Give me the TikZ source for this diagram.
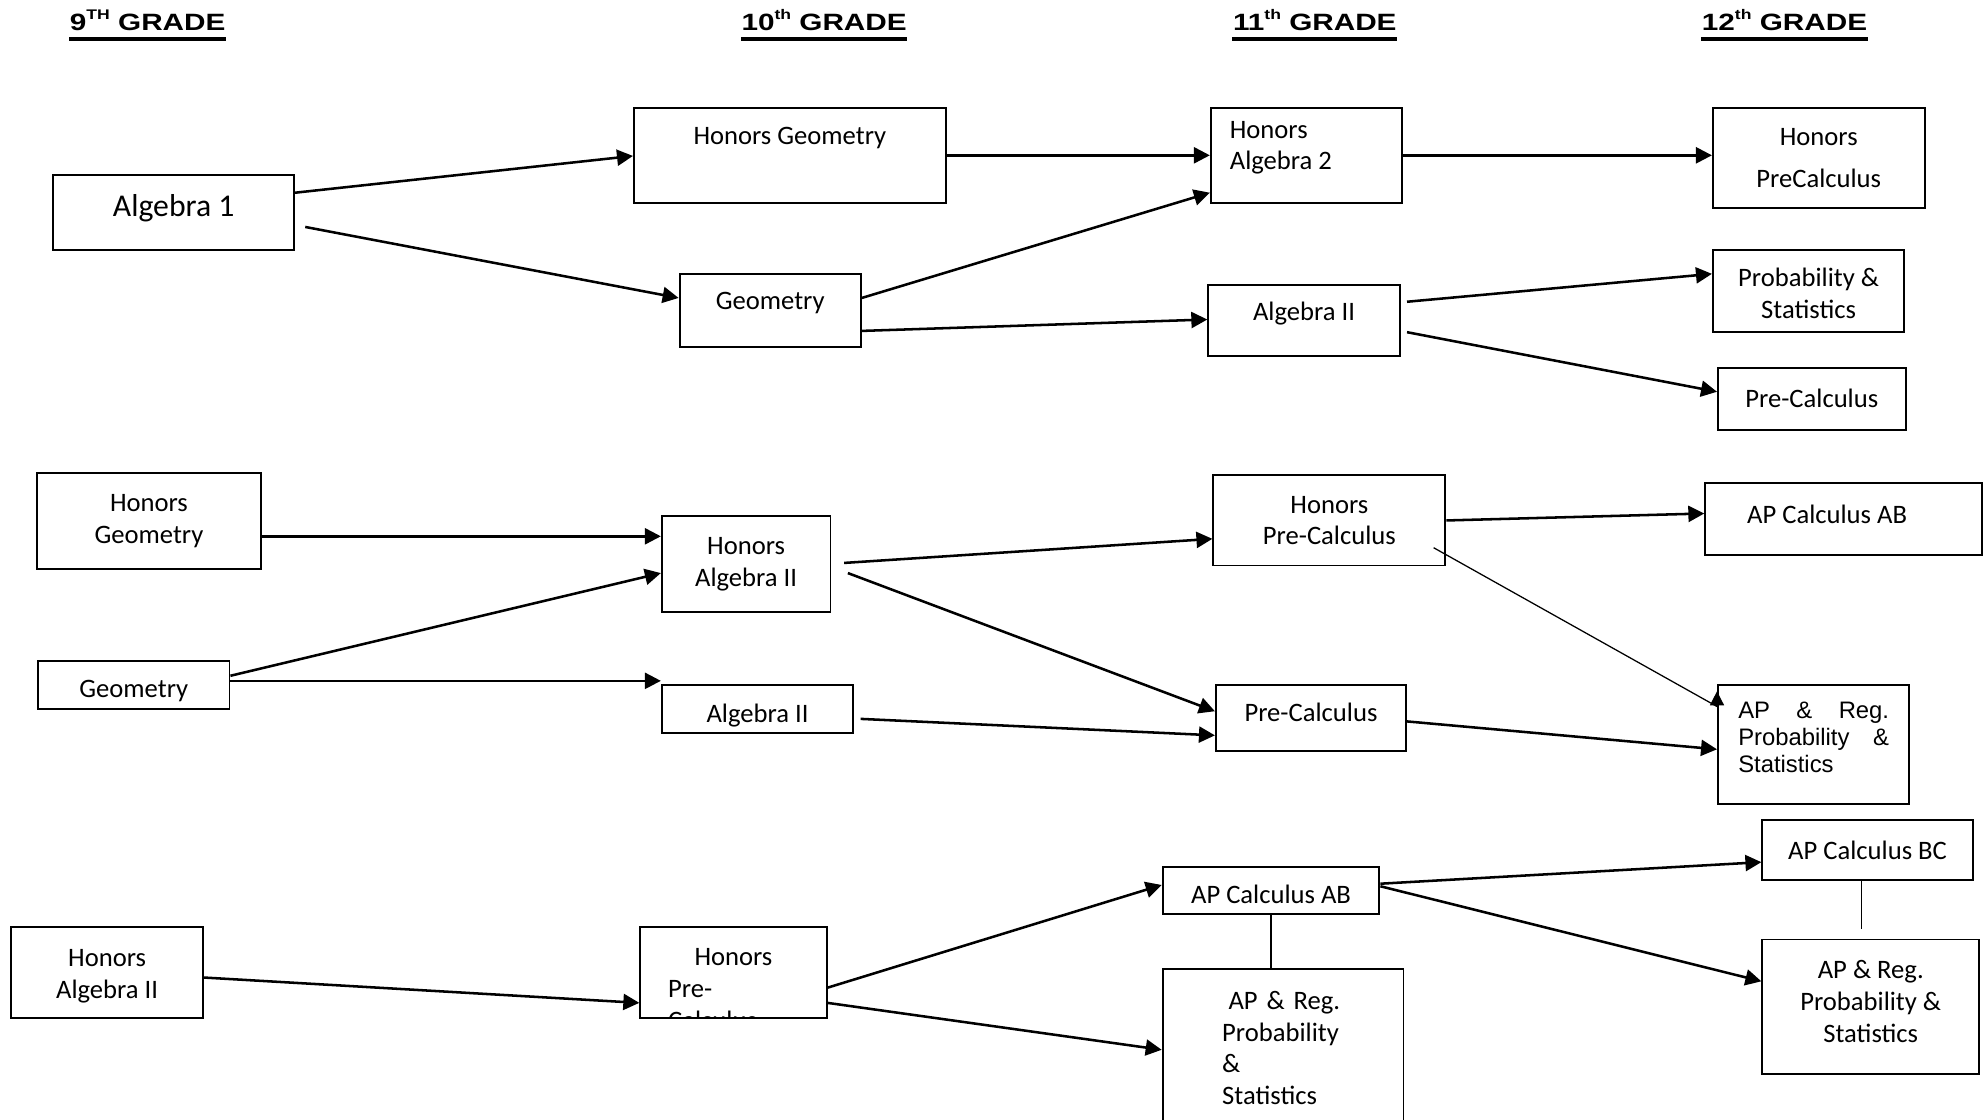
\documentclass[tikz,border=0pt]{standalone}
\usepackage{fontspec}
\setmainfont{Carlito}
\newfontfamily\arialfont{Liberation Sans}
\newfontfamily\gradefont[FakeStretch=1.26]{Liberation Sans}
\usetikzlibrary{arrows.meta,calc}

\newcommand{\lift}[2]{\raisebox{#1}[\height][\depth]{#2}}
\newcommand{\sups}[1]{\raisebox{4.4pt}{\fontsize{5.5pt}{6pt}\selectfont #1}}

\tikzset{
  course/.style={draw, line width=0.75pt, inner sep=1pt, align=center,
    font=\fontsize{10.5pt}{12.5pt}\selectfont},
  dims/.style 2 args={minimum width=#1*0.5pt, minimum height=#2*0.5pt},
  grade/.style={inner sep=0pt, anchor=base, font=\gradefont\bfseries\fontsize{9.3pt}{10pt}\selectfont},
  arr/.style={line width=1pt, -{Triangle[length=6.3pt,width=6.3pt]}},
  thinarr/.style={line width=0.5pt, -{Triangle[length=5.5pt,width=5.5pt]}},
  link/.style={line width=0.5pt}
}

\begin{document}
\begin{tikzpicture}[x=0.5pt,y=-0.5pt]
  \useasboundingbox (0,0) rectangle (1568,883);
  \clip (0,0) rectangle (1568,883);

  % grade headings
  \node[grade] (g9) at (116.5,24) {9\sups{TH} GRADE};
  \node[grade] (g10) at (650,24) {10\sups{th} GRADE};
  \node[grade] (g11) at (1037,24) {11\sups{th} GRADE};
  \node[grade] (g12) at (1407.5,24) {12\sups{th} GRADE};
  \foreach \g in {g9,g10,g11,g12}
    \draw[line width=1.3pt] ([yshift=-3.4pt]\g.base west) -- ([yshift=-3.4pt]\g.base east);

  % first track
  \node[course, dims={190}{59}, font=\fontsize{12.5pt}{15pt}\selectfont] (alga) at (137,167.5) {\lift{1.5pt}{Algebra 1}};
  \node[course, dims={246}{75}] (hgeoa) at (623,122.5) {\lift{7pt}{Honors Geometry}};
  \node[course, dims={143}{58}] (geoa) at (607.5,245) {\lift{3pt}{Geometry}};
  \node[course, dims={151}{75}] (halg2a) at (1030.5,122.5) {\lift{3pt}{\parbox{60.5pt}{Honors\\Algebra 2}}};
  \node[course, dims={151}{56}] (alg2a) at (1028.5,253) {\lift{3pt}{Algebra II}};
  \node[course, dims={167}{79}] (hpca) at (1434.5,124.5) {Honors\\[4pt]PreCalculus};
  \node[course, dims={151}{65}] (psa) at (1426.5,229.5) {\lift{-1pt}{\parbox{62pt}{\centering Probability \&\\Statistics}}};
  \node[course, dims={148}{49}] (pca) at (1429,314.5) {Pre-Calculus};

  % second track
  \node[course, dims={177}{76}] (hgeob) at (117.5,411) {Honors\\Geometry};
  \node[course, dims={151}{38}] (geob) at (105.5,540) {\lift{-2.5pt}{Geometry}};
  \node[course, dims={133}{76}] (halg2b) at (588.5,445) {Honors\\Algebra II};
  \node[course, dims={151}{38}] (alg2b) at (597.5,559) {\lift{-2.5pt}{Algebra II}};
  \node[course, dims={183}{71}] (hpcb) at (1048.5,410.5) {Honors\\Pre-Calculus};
  \node[course, dims={150}{52}] (pcb) at (1034,566) {\lift{2pt}{Pre-Calculus}};
  \node[course, dims={218}{57}, text width=76pt, align=flush left] (apaba) at (1454,409.5) {\lift{2pt}{AP Calculus AB}};
  \node[course, dims={151}{94}, font=\arialfont\fontsize{9.4pt}{10.75pt}\selectfont] (aprsb) at (1430.5,587)
    {\lift{2.75pt}{\parbox{59.5pt}{AP\hfill\&\hfill Reg.\\Probability\hfill\&\\Statistics}}};

  % third track
  \node[course, dims={151}{72}] (halg2c) at (84.5,767) {\lift{-1.5pt}{\parbox{60pt}{\centering Honors\\Algebra II}}};
  \node[course, dims={147}{72}, path picture={
      \node[text width=51.5pt, align=left, inner sep=0pt, font=\fontsize{10.5pt}{12.5pt}\selectfont]
        at ([yshift=-6.5pt]path picture bounding box.center) {\hfill Honors\hfill\mbox{}\\Pre-\\Calculus};}]
    (hpcc) at (578.5,767) {};
  \node[course, dims={171}{37}] (apabb) at (1002.5,702.5) {\lift{-1.5pt}{AP Calculus AB}};
  \node[course, dims={190}{125}, text width=48pt, align=flush left] (aprsa) at (1012,826.5)
    {\hspace*{2.5pt}AP\hspace{3.5pt}\&\hspace{3.5pt}Reg.\\Probability\\\&\\Statistics};
  \node[course, dims={166}{47}] (apbc) at (1473,670.5) {AP Calculus BC};
  \node[course, dims={171}{106}] (aprsc) at (1475.5,794) {\lift{2pt}{\parbox{80pt}{\centering AP \& Reg.\\Probability \&\\Statistics}}};

  % arrows
  \draw[arr] (alga.east |- 0,152) -- (hgeoa.west |- 0,123);
  \draw[arr] ($(alga.east)+(8,11.5)$) -- (geoa.west |- 0,235);
  \draw[arr] (hgeoa.east) -- (halg2a.west);
  \draw[arr] (geoa.east |- 0,235) -- (halg2a.west |- 0,152);
  \draw[arr] (geoa.east |- 0,261) -- (alg2a.west |- 0,252);
  \draw[arr] (halg2a.east) -- (halg2a.east -| hpca.west);
  \draw[arr] ($(alg2a.east)+(5,-15)$) -- (psa.west |- 0,216);
  \draw[arr] ($(alg2a.east)+(5,9)$) -- (pca.west |- 0,309);

  \draw[arr] (hgeob.east |- 0,423) -- (halg2b.west |- 0,423);
  \draw[arr] (geob.east |- 0,533) -- (halg2b.west |- 0,452);
  \draw[arr] (geob.east |- 0,537) -- (alg2b.west |- 0,537);
  \draw[arr] ($(halg2b.east)+(10,-1)$) -- (hpcb.west |- 0,425);
  \draw[arr] ($(halg2b.east)+(13,7)$) -- (pcb.west |- 0,561);
  \draw[arr] ($(alg2b.east)+(5,8)$) -- (pcb.west |- 0,580);
  \draw[arr] (hpcb.east) -- (apaba.west |- 0,405);
  \draw[thinarr] ($(hpcb.east)+(-10,21.5)$) -- ($(aprsb.north west)+(0,18)$) -- ($(aprsb.north west)+(0,6)$);
  \draw[arr] ($(pcb.east)+(0,3)$) -- (aprsb.west |- 0,591);

  \draw[arr] (halg2c.east |- 0,771) -- (hpcc.west |- 0,791);
  \draw[arr] (hpcc.east |- 0,779) -- (apabb.west |- 0,698);
  \draw[arr] (hpcc.east |- 0,791) -- (aprsa.west |- 0,828);
  \draw[arr] (apabb.east |- 0,697) -- (apbc.west |- 0,680);
  \draw[arr] (apabb.east |- 0,699) -- (aprsc.west |- 0,774);

  % plain links
  \draw[link] (apabb.south) -- (apabb.south |- aprsa.north);
  \coordinate (bcend) at (1468,733);
  \draw[link] (apbc.south -| bcend) -- (bcend);
\end{tikzpicture}
\end{document}
